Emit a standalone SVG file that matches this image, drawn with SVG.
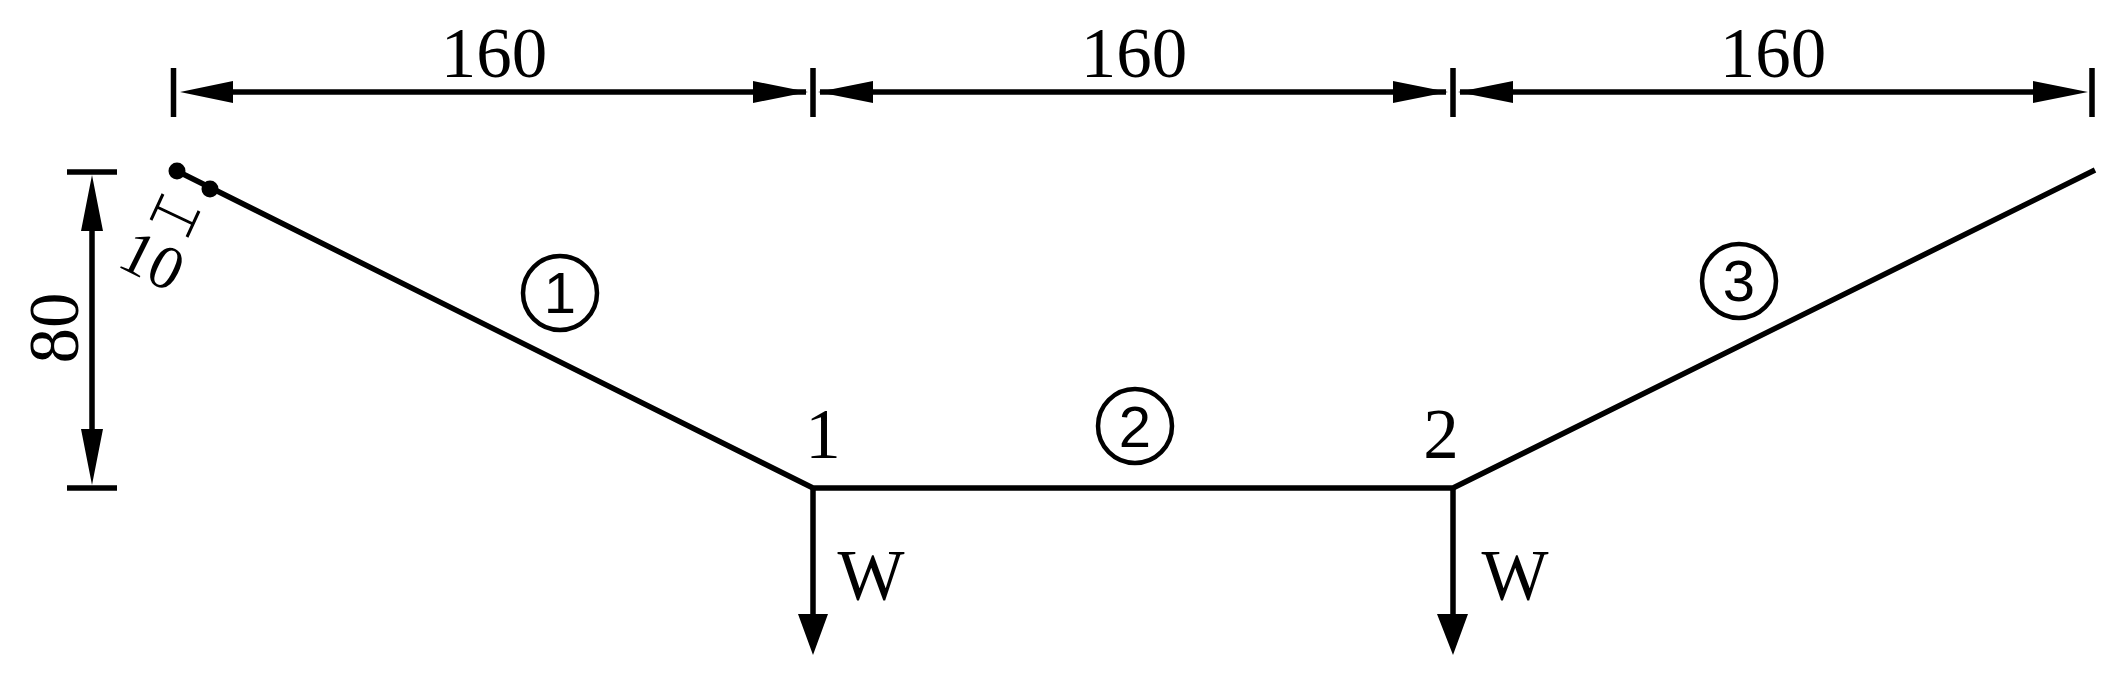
<svg xmlns="http://www.w3.org/2000/svg" width="2117" height="687" viewBox="0 0 2117 687">
<style>
text{font-family:"Liberation Serif","Times New Roman",serif;fill:#000}
.t{font-size:71px;text-anchor:middle}
.c{font-family:"Liberation Sans",Arial,sans-serif;font-size:58px;text-anchor:middle}
.l{stroke:#000;stroke-width:5.5;fill:none}
.th{stroke:#000;stroke-width:3;fill:none}
.o{stroke:#000;stroke-width:4.500;fill:#fff}
.h{fill:#000}
</style>
<rect width="2117" height="687" fill="#fff"/>
<g id="connectors">
<path class="l" d="M177 171L813 488H1453L2095 170"/>
<path class="l" d="M813 488V630M1453 488V630"/>
<path class="h" d="M798 614H828L813 655ZM1437 614H1468L1453 655Z"/>
<path class="l" d="M173.500 68V117M813 68V117M1453 68V117M2092 68V117"/>
<path class="l" d="M200 92H806M820 92H1446M1460 92H2070"/>
<path class="h" d="M180 92L233 81V103ZM808 92L753 81V103ZM818 92L873 81V103ZM1448 92L1393 81V103ZM1458 92L1513 81V103ZM2088 92L2033 81V103Z"/>
<path class="l" d="M67 172H117M67 488H117M92 225V435"/>
<path class="h" d="M92 175L81 231H103ZM92 485L81 429H103Z"/>
<path class="th" d="M163 194L151 220M199 211L187 237M157 207L193 224"/>
<circle class="h" cx="177" cy="171" r="8.500"/>
<circle class="h" cx="210" cy="189" r="8.500"/>
</g>
<g id="dim-160-a"><text class="t" x="494" y="77">160</text></g>
<g id="dim-160-b"><text class="t" x="1134" y="77">160</text></g>
<g id="dim-160-c"><text class="t" x="1773" y="77">160</text></g>
<g id="dim-80"><text class="t" transform="translate(78 328) rotate(-90)">80</text></g>
<g id="dim-10"><text font-size="62" text-anchor="middle" transform="translate(143 279) rotate(26.500)">10</text></g>
<g id="member-1"><circle class="o" cx="560" cy="293" r="37"/><text class="c" x="560" y="313">1</text></g>
<g id="member-2"><circle class="o" cx="1135" cy="426" r="37"/><text class="c" x="1135" y="447">2</text></g>
<g id="member-3"><circle class="o" cx="1739" cy="281" r="37"/><text class="c" x="1739" y="301">3</text></g>
<g id="node-1"><text class="t" x="823" y="458">1</text></g>
<g id="node-2"><text class="t" x="1441" y="458">2</text></g>
<g id="load-1"><text class="t" x="871" y="599">W</text></g>
<g id="load-2"><text class="t" x="1515" y="599">W</text></g>
</svg>
